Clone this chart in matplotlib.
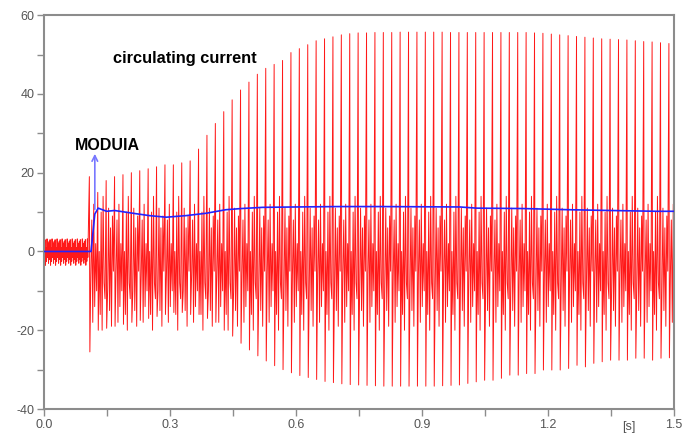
import matplotlib
matplotlib.use("Agg")
import matplotlib.pyplot as plt
import matplotlib.transforms as mtransforms
import numpy as np

plt.rcParams['font.family'] = ['Liberation Sans', 'DejaVu Sans']
plt.rcParams['axes.unicode_minus'] = False

# ---- data ----
# pre-fault ripple (repeated pattern, every 1.2 ms until the fault)
pre_ripple = [2.5, -2.0, 3.0, -3.5, 1.0, -2.5, 3.2, -1.5, 2.0, -3.0]
fault_time = 0.105

# one big spike per 50 Hz cycle: start time, peak and trough of each cycle
cycle_start = 0.108
cycle_period = 0.02
cycle_max = [19, 15, 18, 19, 19.5, 20, 20.5, 21, 21.5, 22,
             22, 22.5, 23, 26, 29.5, 32.5, 35.5, 38.5, 41, 43,
             45, 46.5, 47.5, 48.5, 50.5, 51.5, 52.5, 53.5, 54, 54.5,
             55, 55.3, 55.5, 55.5, 55.6, 55.6, 55.6, 55.7, 55.7, 55.7,
             55.7, 55.7, 55.7, 55.6, 55.6, 55.6, 55.6, 55.6, 55.6, 55.6,
             55.6, 55.6, 55.6, 55.5, 55.4, 55.2, 55.0, 54.8, 54.6, 54.4,
             54.2, 54.0, 53.9, 53.8, 53.7, 53.5, 53.3, 53.2, 53.0, 52.8]
cycle_min = [-25.5, -20, -19.5, -19, -18.5, -18, -17.5, -17, -16.5, -16,
             -15.5, -15.5, -16, -16, -17, -18, -20, -21.5, -23.3, -25,
             -26.5, -27.8, -29, -30, -30.8, -31.5, -32, -32.5, -33, -33.3,
             -33.6, -33.8, -33.9, -34.0, -34.1, -34.2, -34.2, -34.2, -34.2, -34.2,
             -34.2, -34.2, -34.1, -34.0, -33.9, -33.5, -33.1, -32.7, -32.7, -32.2,
             -31.4, -31.4, -31.0, -31.0, -30.1, -30.1, -30.1, -29.7, -28.9, -29.3,
             -28.4, -28.0, -27.6, -27.6, -27.6, -27.1, -27.1, -27.6, -27.1, -27.0]
# in-cycle ripple after each spike (three shapes, used in turn)
ripple_shapes = [[-6, 8, -18, 12, -14, 2, -10],
                 [0, -16, 10, -20, 14, -8, -12],
                 [-10, 11, -15, 6, -19, 9, -5]]
ripple_offsets = [0.0035, 0.0058, 0.0081, 0.0104, 0.0127, 0.015, 0.0173]

# MODUIA (blue)
mod_t = [0, 0.112, 0.121, 0.129, 0.149, 0.168, 0.212, 0.251, 0.291, 0.338,
         0.386, 0.433, 0.47, 0.52, 0.60, 0.70, 0.80, 0.99, 1.03, 1.14,
         1.25, 1.35, 1.46, 1.5]
mod_v = [0, 0, 9.5, 11, 10.2, 10.4, 9.7, 9.1, 8.7, 9.1,
         9.7, 10.6, 10.9, 11.2, 11.3, 11.4, 11.4, 11.3, 11.0, 10.9,
         10.6, 10.4, 10.2, 10.2]

# ---- assemble the circulating current trace ----
ct, cv = [], []
pre_t = np.arange(0, fault_time, 0.0012)
for i, t in enumerate(pre_t):
    ct.append(t)
    cv.append(pre_ripple[i % len(pre_ripple)])
for k in range(len(cycle_max)):
    t0 = cycle_start + k * cycle_period
    ct += [t0, t0 + 0.0012]
    cv += [cycle_max[k], cycle_min[k]]
    shape = ripple_shapes[k % len(ripple_shapes)]
    for off, val in zip(ripple_offsets, shape):
        ct.append(t0 + off)
        cv.append(val)

fig = plt.figure(figsize=(6.93, 4.33), dpi=100)
ax = fig.add_axes([0.0635, 0.0554, 0.909, 0.9096])

ax.plot(ct, cv, color='#ff0000', lw=0.7, alpha=0.9, zorder=2)
ax.plot(mod_t, mod_v, color='#2222ff', lw=1.2, zorder=3)
ax.annotate('', xy=(0.121, 25.5), xytext=(0.121, 10),
            arrowprops=dict(arrowstyle='->', color='#7777ff', lw=1.2), zorder=4)

ax.text(0.336, 49, 'circulating current', fontsize=11.8, fontweight='bold',
        ha='center', va='center')
ax.text(0.151, 27, 'MODUIA', fontsize=11.5, fontweight='bold',
        ha='center', va='center')

ax.set_xlim(0, 1.5)
ax.set_ylim(-40, 60)
ax.set_xticks([0, 0.3, 0.6, 0.9, 1.2, 1.5])
ax.set_xticklabels(['0.0', '0.3', '0.6', '0.9', '1.2', '1.5'])
ax.set_xticks([0.15, 0.45, 0.75, 1.05, 1.35], minor=True)
ax.set_yticks([-40, -20, 0, 20, 40, 60])
ax.set_yticks([-30, -10, 10, 30, 50], minor=True)

for s in ax.spines.values():
    s.set_color('#8c8c8c')
    s.set_linewidth(1.5)
ax.tick_params(which='both', direction='out', length=5, width=1,
               color='#8c8c8c', labelcolor='#555555', labelsize=9, pad=2)

trans = mtransforms.blended_transform_factory(ax.transData, ax.transAxes)
ax.text(1.393, -0.045, '[s]', transform=trans, ha='center', va='center',
        fontsize=9, color='#555555')

fig.savefig('out.png', dpi=100)
